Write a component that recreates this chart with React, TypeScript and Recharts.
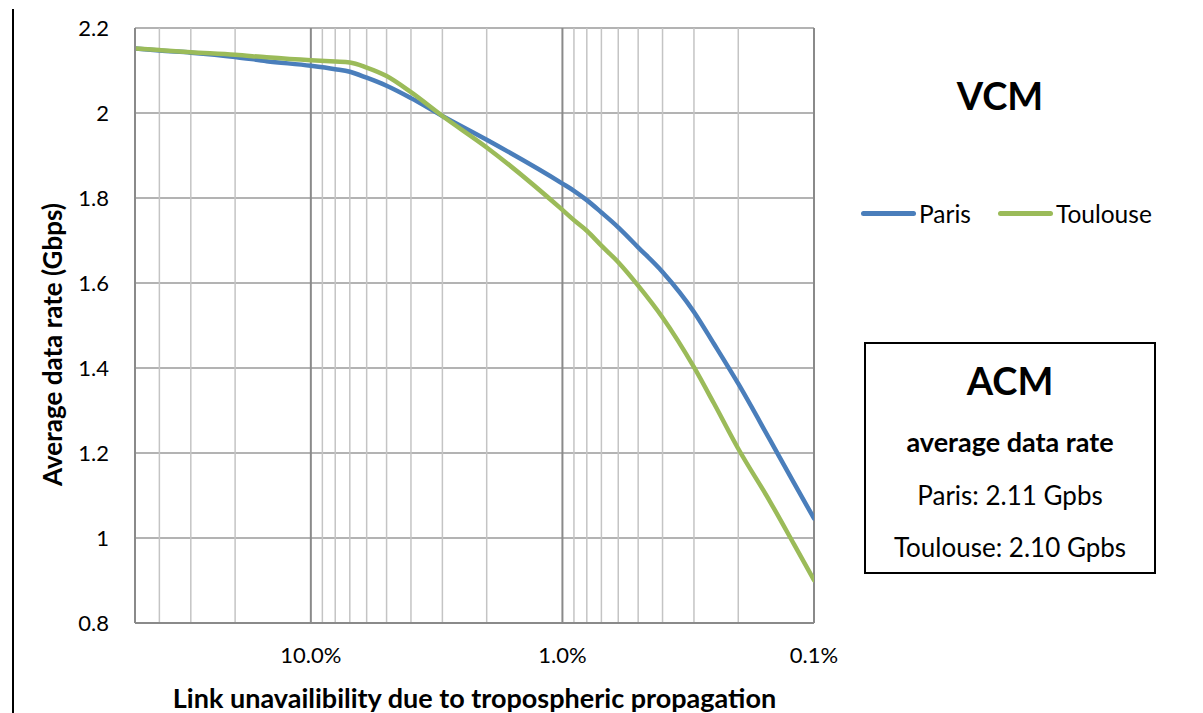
import { LineChart, Line, XAxis, YAxis, CartesianGrid, ReferenceLine, Legend, Label } from 'recharts';

// link unavailability in percent (log axis, reversed) and average data rate in Gbps
const unavailability = [50, 40, 30, 20, 15, 10, 8, 7, 6, 5, 4, 3, 2, 1, 0.9, 0.8, 0.7, 0.6, 0.5, 0.4, 0.3, 0.25, 0.2, 0.15, 0.12, 0.1];
const parisRate = [2.152, 2.147, 2.142, 2.132, 2.122, 2.111, 2.103, 2.097, 2.083, 2.064, 2.035, 1.993, 1.937, 1.834, 1.817, 1.795, 1.766, 1.731, 1.684, 1.626, 1.532, 1.457, 1.363, 1.232, 1.129, 1.046];
const toulouseRate = [2.152, 2.148, 2.143, 2.137, 2.131, 2.124, 2.121, 2.119, 2.107, 2.087, 2.049, 1.993, 1.919, 1.772, 1.748, 1.723, 1.688, 1.649, 1.594, 1.519, 1.402, 1.317, 1.21, 1.087, 0.985, 0.901];

const xTicks = [10, 1, 0.1];
const yTicks = [0.8, 1, 1.2, 1.4, 1.6, 1.8, 2, 2.2];
const majorGrid = [10, 1, 0.1];
const minorGrid = [40, 30, 20, 9, 8, 7, 6, 5, 4, 3, 2, 0.9, 0.8, 0.7, 0.6, 0.5, 0.4, 0.3, 0.2];

const acmLines = ['Paris: 2.11 Gpbs', 'Toulouse: 2.10 Gpbs'];

const data = unavailability.map((x, i) => ({ x, paris: parisRate[i], toulouse: toulouseRate[i] }));

const FONT = 'Lato, "Open Sans", sans-serif';
const BLUE = '#4a7ebb';
const GREEN = '#9bbb59';

function YTitle(props: any) {
  const { x, y, height } = props.viewBox;
  const cx = x + 52;
  const cy = y + height / 2 + 19;
  return (
    <text x={cx} y={cy} transform={`rotate(-90 ${cx} ${cy})`} textAnchor="middle" dominantBaseline="central"
      fontFamily={FONT} fontSize={26} fontWeight={700} fill="#000">
      Average data rate (Gbps)
    </text>
  );
}

function LegendContent(props: any) {
  const { payload } = props;
  return (
    <div style={{ display: 'flex', alignItems: 'center', fontFamily: FONT, fontSize: 24.5, color: '#000' }}>
      {payload.map((entry: any) => (
        <div key={entry.value} style={{ display: 'flex', alignItems: 'center', marginRight: 27 }}>
          <span style={{ width: 55, height: 5, borderRadius: 3, background: entry.color, marginRight: 3 }} />
          {entry.value}
        </div>
      ))}
    </div>
  );
}

export default function App() {
  return (
    <div style={{ position: 'absolute', left: 0, top: 0, width: 1203, height: 713, fontFamily: FONT, background: '#fff' }}>
      <div style={{ position: 'absolute', left: 12, top: 9, width: 2, height: 704, background: '#000' }} />
      <LineChart width={1203} height={713} data={data} margin={{ top: 28, right: 389, bottom: 0, left: 0 }}>
        <CartesianGrid vertical={false} stroke="#9a9a9a" strokeWidth={1.5} />
        {minorGrid.map((v) => (
          <ReferenceLine key={'m' + v} x={v} stroke="#c4c4c4" strokeWidth={1.5} />
        ))}
        {majorGrid.map((v) => (
          <ReferenceLine key={'M' + v} x={v} stroke="#8a8a8a" strokeWidth={2} />
        ))}
        <XAxis
          dataKey="x"
          type="number"
          scale="log"
          domain={[0.1, 50]}
          reversed
          allowDataOverflow
          ticks={xTicks}
          tickFormatter={(v: number) => v.toFixed(1) + '%'}
          tickLine={false}
          tickSize={0}
          tickMargin={24}
          axisLine={{ stroke: '#8a8a8a', strokeWidth: 2 }}
          tick={{ fill: '#000', fontSize: 22, fontFamily: FONT }}
          height={90}
        >
          <Label value="Link unavailibility due to tropospheric propagation" position="insideBottom" offset={5}
            fill="#000" fontSize={27} fontWeight={700} fontFamily={FONT} />
        </XAxis>
        <YAxis
          type="number"
          domain={[0.8, 2.2]}
          ticks={yTicks}
          tickFormatter={(v: number) => String(v)}
          tickLine={false}
          tickSize={0}
          tickMargin={26}
          axisLine={{ stroke: '#8a8a8a', strokeWidth: 2 }}
          tick={{ fill: '#000', fontSize: 22, fontFamily: FONT }}
          width={135}
        >
          <Label content={YTitle} />
        </YAxis>
        <Legend
          layout="horizontal"
          verticalAlign="middle"
          align="center"
          content={LegendContent}
          wrapperStyle={{ position: 'absolute', left: 861, top: 199, width: 'auto' }}
        />
        <Line type="monotone" dataKey="paris" name="Paris" stroke={BLUE} strokeWidth={4.5} dot={false} isAnimationActive={false} strokeLinecap="round" />
        <Line type="monotone" dataKey="toulouse" name="Toulouse" stroke={GREEN} strokeWidth={4.5} dot={false} isAnimationActive={false} strokeLinecap="round" />
      </LineChart>
      <div style={{ position: 'absolute', left: 900, top: 75, width: 200, textAlign: 'center', fontSize: 38, fontWeight: 700, lineHeight: '40px' }}>
        VCM
      </div>
      <div style={{ position: 'absolute', left: 864, top: 342, width: 292, height: 232, border: '2px solid #000', boxSizing: 'border-box' }}>
        <div style={{ position: 'absolute', left: 0, right: 0, top: 16, textAlign: 'center', fontSize: 38, fontWeight: 700, lineHeight: '40px' }}>ACM</div>
        <div style={{ position: 'absolute', left: 0, right: 0, top: 83, textAlign: 'center', fontSize: 27, fontWeight: 700, lineHeight: '30px' }}>average data rate</div>
        {acmLines.map((t, i) => (
          <div key={t} style={{ position: 'absolute', left: 0, right: 0, top: 136 + i * 52, textAlign: 'center', fontSize: 26, lineHeight: '30px' }}>{t}</div>
        ))}
      </div>
    </div>
  );
}
